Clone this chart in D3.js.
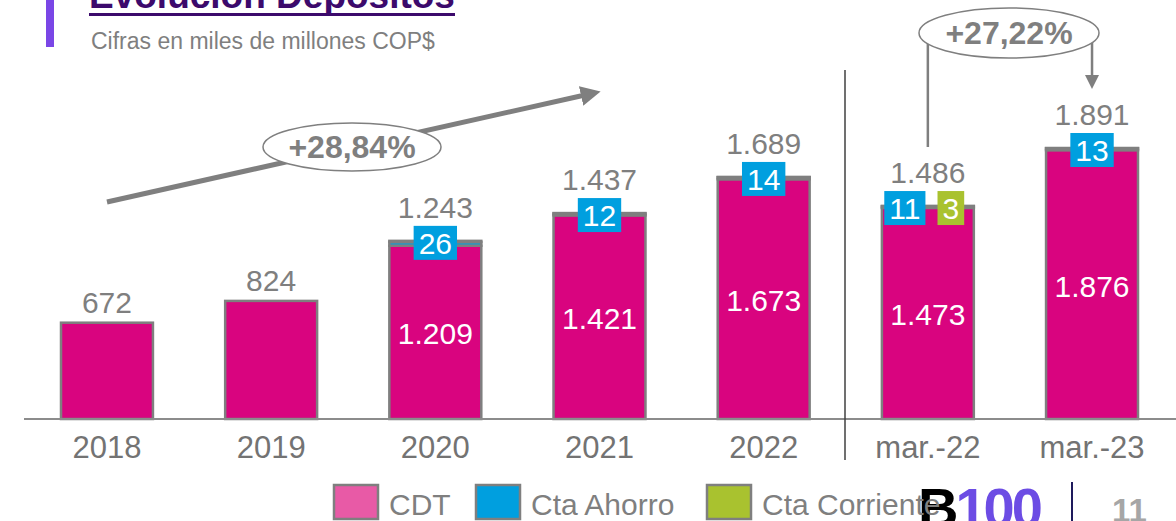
<!DOCTYPE html>
<html>
<head>
<meta charset="utf-8">
<script src="https://cdn.jsdelivr.net/npm/d3@7"></script>
<style>
  body { margin: 0; background: #fff; }
  svg { font-family: "Liberation Sans", Arial, sans-serif; display: block; }
</style>
</head>
<body>
<div id="chart"></div>
<script>
var svgWidth = 1176;
var svgHeight = 521;

// data
var categories = ["2018", "2019", "2020", "2021", "2022", "mar.-22", "mar.-23"];
var totals = [672, 824, 1243, 1437, 1689, 1486, 1891];
var cdt = [672, 824, 1209, 1421, 1673, 1473, 1876];
var ahorro = [0, 0, 26, 12, 14, 11, 13];
var corriente = [0, 0, 8, 4, 2, 3, 2];
var totalLabels = ["672", "824", "1.243", "1.437", "1.689", "1.486", "1.891"];
var cdtLabels = ["", "", "1.209", "1.421", "1.673", "1.473", "1.876"];
var ahorroLabels = ["", "", "26", "12", "14", "11", "13"];
var corrienteLabels = ["", "", "", "", "", "3", ""];
var seriesNames = ["CDT", "Cta Ahorro", "Cta Corriente"];
var seriesColors = ["#d9047f", "#009fdf", "#a9c22f"];
var legendColors = ["#e85aa6", "#009fdf", "#a9c22f"];

var grey = "#7f7f7f";

var svg = d3.select("#chart")
  .append("svg")
  .attr("width", svgWidth)
  .attr("height", svgHeight);

var x = d3.scaleBand()
  .domain(categories)
  .range([61, 1138])
  .paddingInner(0.44)
  .paddingOuter(0);

var y = d3.scaleLinear()
  .domain([0, 1891])
  .range([419, 148]);

// title block
svg.append("rect")
  .attr("x", 46).attr("y", 0)
  .attr("width", 8).attr("height", 47)
  .attr("fill", "#7a46e6");

svg.append("text")
  .attr("x", 89).attr("y", 8)
  .attr("font-size", 37)
  .attr("font-weight", "bold")
  .attr("fill", "#3c0a6c")
  .text("Evolución Depósitos");

svg.append("rect")
  .attr("x", 89).attr("y", 13)
  .attr("width", 366).attr("height", 3)
  .attr("fill", "#3c0a6c");

svg.append("text")
  .attr("x", 91).attr("y", 49)
  .attr("font-size", 23)
  .attr("fill", grey)
  .text("Cifras en miles de millones COP$");

// stacked data
var rows = categories.map(function(c, i) {
  return { cat: c, CDT: cdt[i], "Cta Ahorro": ahorro[i], "Cta Corriente": corriente[i], i: i };
});
var stack = d3.stack().keys(seriesNames)(rows);

var bars = svg.append("g");
stack.forEach(function(layer, k) {
  bars.selectAll(".s" + k)
    .data(layer.filter(function(d) { return d[1] > d[0]; }))
    .enter()
    .append("rect")
    .attr("x", function(d) { return x(d.data.cat); })
    .attr("y", function(d) { return y(d[1]); })
    .attr("width", x.bandwidth())
    .attr("height", function(d) { return y(d[0]) - y(d[1]); })
    .attr("fill", seriesColors[k])
    .attr("stroke", grey)
    .attr("stroke-width", 2.5);
});

// axis line and divider
svg.append("line")
  .attr("x1", 24).attr("x2", svgWidth)
  .attr("y1", y(0)).attr("y2", y(0))
  .attr("stroke", "#8c8c8c").attr("stroke-width", 2);

svg.append("line")
  .attr("x1", 845).attr("x2", 845)
  .attr("y1", 70).attr("y2", 460)
  .attr("stroke", "#404040").attr("stroke-width", 1.5);

var bottomAxis = d3.axisBottom(x).tickSize(0).tickPadding(17);
var axisG = svg.append("g")
  .attr("transform", "translate(0," + y(0) + ")")
  .call(bottomAxis);
axisG.select(".domain").remove();
axisG.selectAll("text")
  .attr("font-size", 31)
  .attr("font-family", "Liberation Sans, Arial, sans-serif")
  .attr("fill", "#737373");

// CDT labels inside bars
svg.selectAll(".cdtLabel")
  .data(rows.filter(function(d) { return cdtLabels[d.i] !== ""; }))
  .enter()
  .append("text")
  .attr("x", function(d) { return x(d.cat) + x.bandwidth() / 2; })
  .attr("y", function(d) { return (y(0) + y(d.CDT)) / 2 + 12; })
  .attr("text-anchor", "middle")
  .attr("font-size", 30)
  .attr("fill", "#fff")
  .text(function(d) { return cdtLabels[d.i]; });

// boxed labels for Ahorro / Corriente
function boxLabel(cx, cy, txt, color) {
  var g = svg.append("g");
  var t = g.append("text")
    .attr("x", cx).attr("y", cy + 11)
    .attr("text-anchor", "middle")
    .attr("font-size", 30)
    .attr("fill", "#fff")
    .text(txt);
  var w = t.node().getComputedTextLength() + 10;
  g.insert("rect", "text")
    .attr("x", cx - w / 2).attr("y", cy - 17)
    .attr("width", w).attr("height", 34)
    .attr("fill", color);
}

rows.forEach(function(d) {
  var cx = x(d.cat) + x.bandwidth() / 2;
  var top = y(totals[d.i]);
  var cy = top + 2;
  var hasBox = ahorroLabels[d.i] !== "";
  if (hasBox) {
    if (corrienteLabels[d.i] !== "") {
      boxLabel(cx - 23, cy, ahorroLabels[d.i], seriesColors[1]);
      boxLabel(cx + 23, cy, corrienteLabels[d.i], seriesColors[2]);
    } else {
      boxLabel(cx, cy, ahorroLabels[d.i], seriesColors[1]);
    }
  }
  svg.append("text")
    .attr("x", cx)
    .attr("y", hasBox ? cy - 25 : top - 10)
    .attr("text-anchor", "middle")
    .attr("font-size", 30)
    .attr("fill", grey)
    .text(totalLabels[d.i]);
});

// growth arrow 2018-2022
var defs = svg.append("defs");
defs.append("marker")
  .attr("id", "head")
  .attr("viewBox", "0 0 10 10")
  .attr("refX", 2).attr("refY", 5)
  .attr("markerWidth", 4).attr("markerHeight", 4)
  .attr("orient", "auto")
  .append("path")
  .attr("d", "M0,0 L10,5 L0,10 z")
  .attr("fill", grey);

svg.append("line")
  .attr("x1", 107).attr("y1", 202)
  .attr("x2", 585).attr("y2", 95)
  .attr("stroke", grey).attr("stroke-width", 5)
  .attr("marker-end", "url(#head)");

svg.append("ellipse")
  .attr("cx", 352).attr("cy", 147)
  .attr("rx", 89).attr("ry", 24)
  .attr("fill", "#fff")
  .attr("stroke", grey).attr("stroke-width", 1.5);

svg.append("text")
  .attr("x", 352).attr("y", 158)
  .attr("text-anchor", "middle")
  .attr("font-size", 32).attr("font-weight", "bold")
  .attr("fill", grey)
  .text("+28,84%");

// growth mar-22 -> mar-23
var xa = x("mar.-22") + x.bandwidth() / 2;
var xb = x("mar.-23") + x.bandwidth() / 2;

svg.append("line")
  .attr("x1", xa).attr("x2", xa)
  .attr("y1", 40).attr("y2", 147)
  .attr("stroke", grey).attr("stroke-width", 2.5);

svg.append("line")
  .attr("x1", xb).attr("x2", xb)
  .attr("y1", 40).attr("y2", 76)
  .attr("stroke", grey).attr("stroke-width", 2.5);

svg.append("path")
  .attr("d", "M" + (xb - 7) + ",75 L" + (xb + 7) + ",75 L" + xb + ",89 z")
  .attr("fill", grey);

svg.append("ellipse")
  .attr("cx", 1009).attr("cy", 33)
  .attr("rx", 90).attr("ry", 25)
  .attr("fill", "#fff")
  .attr("stroke", grey).attr("stroke-width", 1.5);

svg.append("text")
  .attr("x", 1009).attr("y", 44)
  .attr("text-anchor", "middle")
  .attr("font-size", 32).attr("font-weight", "bold")
  .attr("fill", grey)
  .text("+27,22%");

// logo and page number
var logo = svg.append("text")
  .attr("x", 918).attr("y", 527)
  .attr("font-size", 56).attr("font-weight", "bold")
  .attr("letter-spacing", -3);
logo.append("tspan").attr("fill", "#000").text("B");
logo.append("tspan").attr("fill", "#6c4ce4").text("100");

svg.append("line")
  .attr("x1", 1072).attr("x2", 1072)
  .attr("y1", 482).attr("y2", 521)
  .attr("stroke", "#1e1a5c").attr("stroke-width", 2);

svg.append("text")
  .attr("x", 1112).attr("y", 522)
  .attr("font-size", 33).attr("font-weight", "bold")
  .attr("fill", "#a6a6a6")
  .text("11");

// legend
var legendX = [334, 476, 707];
var legend = svg.selectAll(".legend")
  .data(seriesNames)
  .enter()
  .append("g")
  .attr("transform", function(d, i) { return "translate(" + legendX[i] + ",485)"; });

legend.append("rect")
  .attr("width", 44).attr("height", 34)
  .attr("fill", function(d, i) { return legendColors[i]; })
  .attr("stroke", grey).attr("stroke-width", 2.5);

legend.append("text")
  .attr("x", 55).attr("y", 30)
  .attr("font-size", 30)
  .attr("fill", grey)
  .text(function(d) { return d; });
</script>
</body>
</html>
